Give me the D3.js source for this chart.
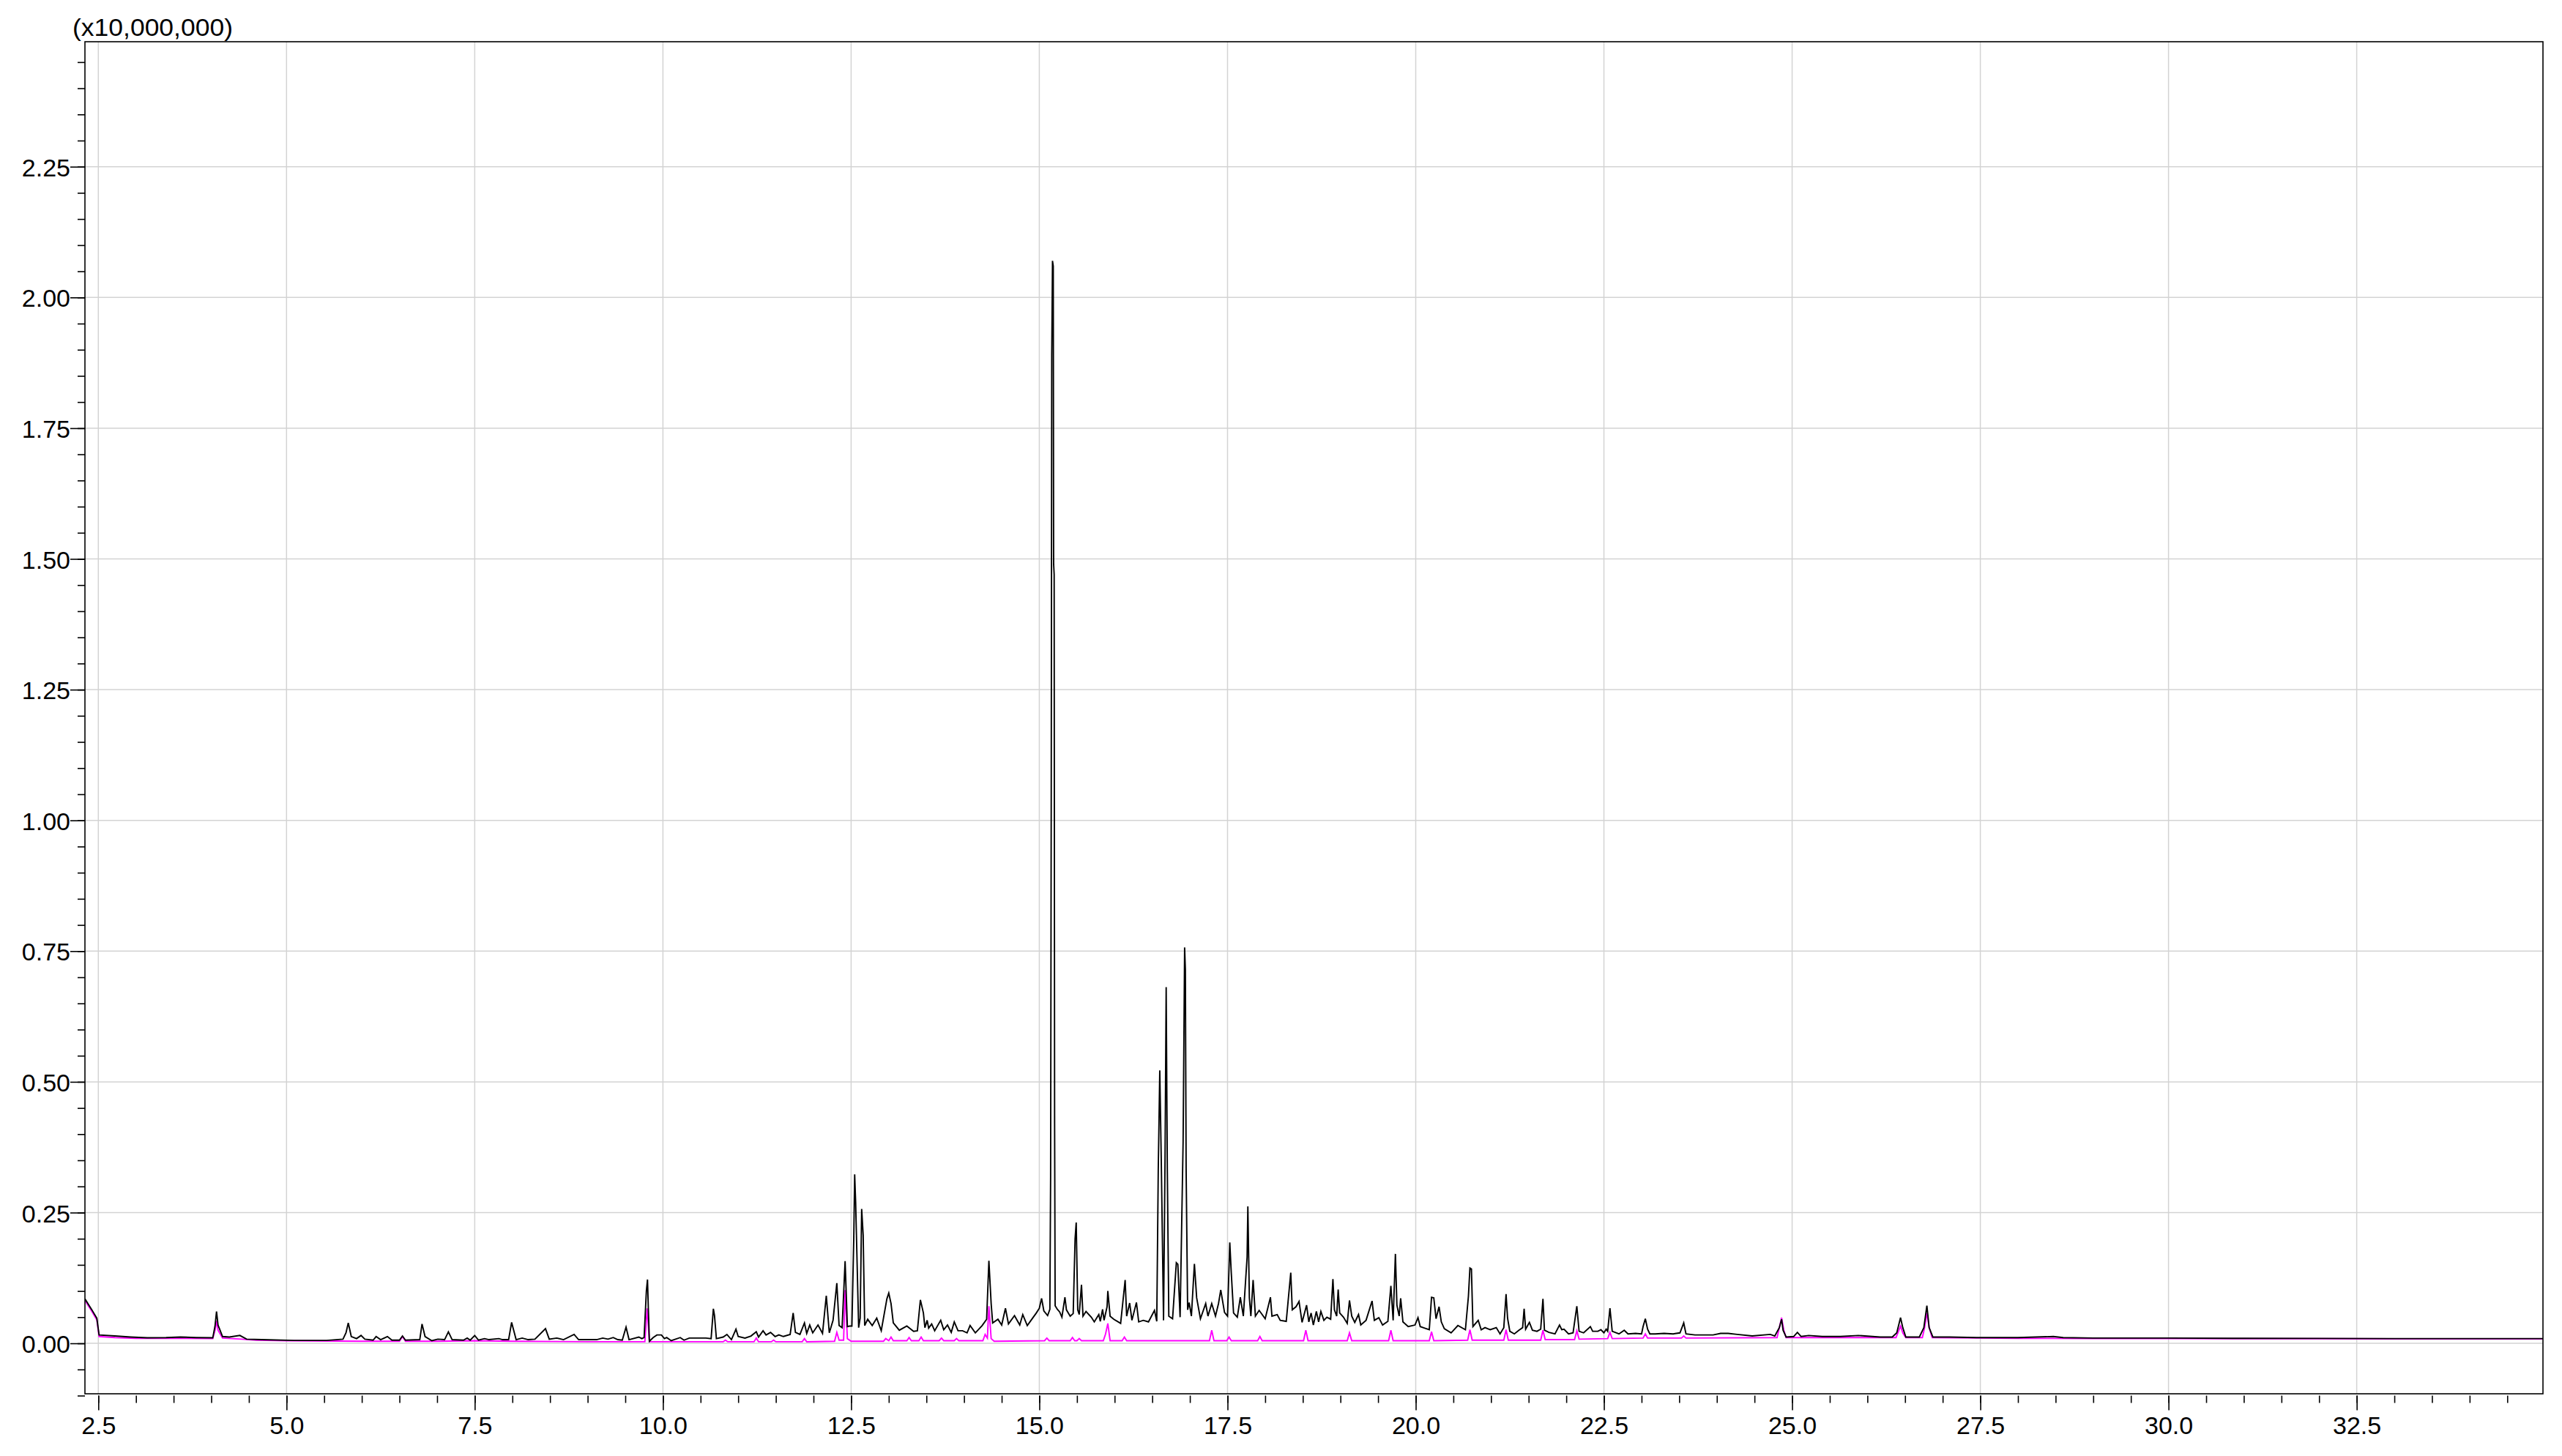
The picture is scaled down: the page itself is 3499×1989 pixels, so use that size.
<!DOCTYPE html>
<html>
<head>
<meta charset="utf-8">
<script src="https://cdn.jsdelivr.net/npm/d3@7"></script>
<style>
  html, body { margin: 0; padding: 0; background: #ffffff; }
  svg { display: block; }
  text { font-family: "Liberation Sans", Arial, sans-serif; fill: #000; }
</style>
</head>
<body>
<svg id="chart" width="3499" height="1989"></svg>
<script>
// ---- Data (retention time in min, intensity in units of 10,000,000) ----
const ticPoints = [
[2.322,0.085],[2.41,0.065],[2.48,0.048],[2.51,0.016],[2.72,0.014],[2.93,0.012],[3.15,0.0105],[3.40,0.011],[3.59,0.012],[3.80,0.011],
[4.02,0.0105],[4.05,0.033],[4.07,0.061],[4.09,0.035],[4.15,0.013],[4.24,0.012],[4.38,0.015],[4.47,0.008],[4.67,0.007],[5.10,0.0055],
[5.53,0.0055],[5.75,0.008],[5.79,0.020],[5.82,0.039],[5.86,0.013],[5.93,0.009],[5.99,0.015],[6.04,0.008],[6.15,0.006],[6.19,0.013],
[6.25,0.007],[6.34,0.013],[6.40,0.006],[6.50,0.006],[6.54,0.014],[6.58,0.006],[6.77,0.007],[6.80,0.037],[6.84,0.013],[6.93,0.005],
[7.01,0.008],[7.10,0.007],[7.15,0.022],[7.20,0.007],[7.35,0.006],[7.40,0.010],[7.44,0.006],[7.50,0.015],[7.55,0.006],[7.63,0.009],
[7.69,0.007],[7.82,0.009],[7.87,0.007],[7.95,0.007],[7.99,0.040],[8.05,0.007],[8.13,0.010],[8.21,0.007],[8.30,0.008],[8.44,0.028],
[8.49,0.008],[8.59,0.010],[8.68,0.007],[8.82,0.017],[8.88,0.007],[9.12,0.007],[9.20,0.010],[9.27,0.008],[9.34,0.011],[9.40,0.007],
[9.46,0.006],[9.51,0.031],[9.55,0.007],[9.68,0.012],[9.72,0.009],[9.75,0.011],[9.78,0.100],[9.795,0.122],[9.806,0.067],[9.82,0.004],
[9.87,0.011],[9.92,0.016],[9.98,0.016],[10.02,0.009],[10.05,0.011],[10.11,0.005],[10.23,0.011],[10.28,0.006],[10.35,0.010],[10.46,0.010],
[10.57,0.010],[10.64,0.009],[10.67,0.066],[10.685,0.053],[10.71,0.009],[10.80,0.012],[10.85,0.017],[10.91,0.007],[10.97,0.027],[11.00,0.013],
[11.09,0.010],[11.17,0.014],[11.24,0.022],[11.27,0.012],[11.33,0.024],[11.37,0.016],[11.43,0.021],[11.49,0.013],[11.54,0.016],[11.60,0.013],
[11.69,0.017],[11.73,0.058],[11.76,0.021],[11.82,0.017],[11.88,0.039],[11.91,0.019],[11.95,0.035],[11.99,0.020],[12.06,0.035],[12.12,0.019],
[12.17,0.091],[12.21,0.020],[12.26,0.044],[12.31,0.115],[12.34,0.034],[12.38,0.030],[12.42,0.157],[12.45,0.032],[12.48,0.033],[12.51,0.033],
[12.535,0.20],[12.547,0.323],[12.56,0.27],[12.60,0.030],[12.62,0.048],[12.64,0.257],[12.66,0.207],[12.68,0.034],[12.72,0.046],[12.78,0.034],
[12.84,0.048],[12.90,0.024],[12.975,0.085],[13.00,0.096],[13.03,0.076],[13.06,0.039],[13.14,0.025],[13.24,0.033],[13.33,0.023],[13.38,0.024],
[13.42,0.083],[13.46,0.058],[13.48,0.030],[13.51,0.044],[13.53,0.029],[13.57,0.037],[13.61,0.024],[13.69,0.044],[13.73,0.026],[13.78,0.035],
[13.83,0.021],[13.87,0.041],[13.92,0.024],[13.98,0.024],[14.04,0.020],[14.08,0.034],[14.15,0.020],[14.24,0.034],[14.30,0.046],[14.33,0.158],
[14.36,0.076],[14.38,0.039],[14.45,0.046],[14.50,0.035],[14.55,0.067],[14.59,0.037],[14.67,0.053],[14.74,0.035],[14.78,0.055],[14.84,0.034],
[14.89,0.044],[14.96,0.058],[15.00,0.067],[15.03,0.086],[15.06,0.062],[15.11,0.053],[15.14,0.065],[15.150,0.32],[15.158,1.02],[15.165,1.89],
[15.175,2.07],[15.185,2.06],[15.19,1.49],[15.197,1.47],[15.203,0.42],[15.21,0.072],[15.24,0.065],[15.27,0.060],[15.30,0.050],[15.34,0.088],
[15.36,0.064],[15.41,0.052],[15.45,0.057],[15.475,0.20],[15.49,0.231],[15.51,0.064],[15.53,0.055],[15.56,0.112],[15.58,0.052],[15.62,0.061],
[15.69,0.050],[15.73,0.041],[15.79,0.055],[15.81,0.042],[15.84,0.065],[15.86,0.044],[15.90,0.070],[15.91,0.100],[15.94,0.052],[15.99,0.046],
[16.08,0.038],[16.14,0.121],[16.16,0.052],[16.20,0.077],[16.23,0.044],[16.29,0.078],[16.32,0.041],[16.38,0.044],[16.45,0.041],[16.53,0.063],
[16.56,0.042],[16.58,0.334],[16.60,0.522],[16.62,0.348],[16.65,0.044],[16.67,0.354],[16.685,0.681],[16.70,0.334],[16.72,0.052],[16.77,0.047],
[16.82,0.154],[16.84,0.151],[16.87,0.050],[16.91,0.386],[16.93,0.757],[16.94,0.714],[16.95,0.334],[16.97,0.064],[16.99,0.078],[17.02,0.052],
[17.06,0.152],[17.09,0.087],[17.14,0.047],[17.21,0.076],[17.24,0.052],[17.29,0.076],[17.34,0.052],[17.38,0.076],[17.41,0.102],[17.46,0.059],
[17.50,0.052],[17.53,0.193],[17.55,0.134],[17.58,0.058],[17.63,0.050],[17.67,0.088],[17.71,0.052],[17.76,0.165],[17.77,0.262],[17.79,0.087],
[17.81,0.052],[17.84,0.121],[17.87,0.052],[17.92,0.063],[17.96,0.055],[18.00,0.047],[18.07,0.088],[18.09,0.052],[18.16,0.055],[18.20,0.044],
[18.28,0.042],[18.34,0.135],[18.36,0.064],[18.41,0.070],[18.45,0.080],[18.49,0.040],[18.55,0.073],[18.58,0.041],[18.61,0.058],[18.64,0.035],
[18.68,0.061],[18.71,0.041],[18.74,0.061],[18.78,0.044],[18.82,0.050],[18.87,0.046],[18.90,0.123],[18.92,0.064],[18.95,0.052],[18.97,0.103],
[18.99,0.058],[19.04,0.050],[19.09,0.038],[19.12,0.082],[19.15,0.052],[19.19,0.040],[19.24,0.055],[19.27,0.035],[19.34,0.044],[19.42,0.081],
[19.45,0.044],[19.51,0.049],[19.56,0.035],[19.63,0.042],[19.67,0.110],[19.70,0.044],[19.73,0.171],[19.75,0.073],[19.78,0.052],[19.80,0.086],
[19.83,0.041],[19.90,0.032],[19.99,0.035],[20.03,0.049],[20.06,0.032],[20.12,0.029],[20.18,0.026],[20.21,0.088],[20.24,0.087],[20.27,0.047],
[20.31,0.070],[20.34,0.041],[20.38,0.028],[20.47,0.020],[20.56,0.034],[20.66,0.026],[20.70,0.090],[20.72,0.144],[20.74,0.142],[20.76,0.032],
[20.83,0.044],[20.87,0.026],[20.92,0.030],[20.99,0.026],[21.07,0.030],[21.12,0.018],[21.17,0.030],[21.20,0.094],[21.22,0.048],[21.25,0.023],
[21.31,0.018],[21.37,0.025],[21.42,0.030],[21.44,0.066],[21.46,0.027],[21.51,0.040],[21.55,0.025],[21.61,0.023],[21.66,0.027],[21.69,0.085],
[21.71,0.025],[21.77,0.021],[21.85,0.018],[21.91,0.035],[21.94,0.026],[21.97,0.027],[22.03,0.018],[22.09,0.020],[22.14,0.071],[22.17,0.023],
[22.23,0.020],[22.32,0.032],[22.35,0.023],[22.42,0.023],[22.46,0.026],[22.50,0.020],[22.53,0.027],[22.55,0.023],[22.58,0.067],[22.61,0.023],
[22.70,0.018],[22.77,0.025],[22.82,0.018],[22.92,0.019],[23.00,0.018],[23.02,0.032],[23.05,0.047],[23.08,0.027],[23.11,0.018],[23.18,0.018],
[23.30,0.019],[23.42,0.018],[23.51,0.020],[23.56,0.039],[23.59,0.018],[23.71,0.016],[23.95,0.016],[24.05,0.019],[24.15,0.019],[24.27,0.017],
[24.47,0.014],[24.71,0.017],[24.77,0.014],[24.83,0.030],[24.86,0.046],[24.88,0.025],[24.92,0.012],[25.02,0.013],[25.07,0.021],[25.12,0.013],
[25.22,0.015],[25.40,0.013],[25.64,0.013],[25.88,0.015],[26.17,0.012],[26.33,0.012],[26.39,0.020],[26.44,0.049],[26.47,0.030],[26.51,0.012],
[26.69,0.012],[26.75,0.030],[26.79,0.072],[26.82,0.030],[26.87,0.012],[27.09,0.012],[27.45,0.011],[28.0,0.011],[28.47,0.013],[28.6,0.011],
[29.0,0.010],[29.5,0.010],[30.0,0.010],[31.0,0.0095],[32.0,0.0093],[33.0,0.009],[34.0,0.009],[34.974,0.009]
];

const eicPoints = [
[2.322,0.082],[2.41,0.062],[2.48,0.045],[2.51,0.013],[2.72,0.011],[3.0,0.0095],[3.5,0.0095],[4.02,0.009],[4.05,0.025],[4.07,0.043],
[4.09,0.025],[4.15,0.010],[4.4,0.008],[4.6,0.006],[5.0,0.005],[6.0,0.004],[6.50,0.004],[6.54,0.013],[6.58,0.004],[7.0,0.004],
[7.5,0.005],[8.0,0.004],[9.0,0.003],[9.76,0.003],[9.79,0.067],[9.82,0.003],[10.80,0.003],[10.83,0.006],[10.86,0.003],[11.21,0.003],
[11.24,0.010],[11.27,0.003],[11.44,0.003],[11.47,0.006],[11.50,0.003],[11.85,0.003],[11.88,0.009],[11.91,0.003],[12.28,0.004],[12.31,0.021],
[12.34,0.006],[12.40,0.006],[12.42,0.102],[12.45,0.009],[12.50,0.004],[12.93,0.004],[12.96,0.009],[13.00,0.005],[13.03,0.012],[13.06,0.005],
[13.24,0.005],[13.27,0.011],[13.30,0.005],[13.40,0.005],[13.43,0.012],[13.46,0.005],[13.67,0.005],[13.70,0.010],[13.73,0.005],[13.87,0.005],
[13.90,0.009],[13.93,0.005],[14.25,0.005],[14.28,0.017],[14.31,0.010],[14.33,0.071],[14.36,0.009],[14.40,0.004],[15.07,0.005],[15.10,0.010],
[15.13,0.005],[15.41,0.005],[15.44,0.011],[15.47,0.005],[15.50,0.005],[15.53,0.009],[15.56,0.005],[15.85,0.005],[15.88,0.018],[15.91,0.038],
[15.94,0.005],[16.10,0.005],[16.13,0.012],[16.16,0.005],[17.26,0.005],[17.29,0.025],[17.32,0.005],[17.49,0.005],[17.52,0.012],[17.55,0.005],
[17.90,0.005],[17.93,0.013],[17.96,0.005],[18.51,0.005],[18.54,0.025],[18.57,0.005],[19.09,0.005],[19.12,0.020],[19.15,0.005],[19.64,0.005],
[19.67,0.025],[19.70,0.005],[20.18,0.005],[20.21,0.022],[20.24,0.005],[20.69,0.006],[20.72,0.026],[20.75,0.006],[21.17,0.006],[21.20,0.026],
[21.23,0.006],[21.66,0.006],[21.69,0.025],[21.72,0.007],[22.11,0.007],[22.14,0.024],[22.17,0.008],[22.55,0.009],[22.58,0.021],[22.61,0.009],
[23.02,0.010],[23.05,0.018],[23.08,0.010],[23.53,0.010],[23.56,0.014],[23.59,0.010],[24.80,0.011],[24.83,0.030],[24.86,0.049],[24.89,0.025],
[24.92,0.011],[26.38,0.011],[26.41,0.022],[26.44,0.033],[26.47,0.020],[26.51,0.011],[26.73,0.011],[26.76,0.030],[26.79,0.058],[26.82,0.030],
[26.86,0.011],[27.5,0.010],[28.0,0.0095],[29.0,0.009],[30.0,0.009],[31.0,0.0088],[32.0,0.0088],[33.0,0.0085],[34.0,0.0085],[34.974,0.0085]
];

const xMajorTicks = [2.5, 5.0, 7.5, 10.0, 12.5, 15.0, 17.5, 20.0, 22.5, 25.0, 27.5, 30.0, 32.5];
const xTickLabels = ["2.5","5.0","7.5","10.0","12.5","15.0","17.5","20.0","22.5","25.0","27.5","30.0","32.5"];
const yMajorTicks = [0, 0.25, 0.5, 0.75, 1.0, 1.25, 1.5, 1.75, 2.0, 2.25];
const yTickLabels = ["0.00","0.25","0.50","0.75","1.00","1.25","1.50","1.75","2.00","2.25"];
const yUnitLabel = "(x10,000,000)";

// ---- Layout ----
const plotLeft = 116, plotRight = 3473, plotTop = 57, plotBottom = 1904;
const axisBaseY = 1906.5;
const fontSize = 34;

const x = d3.scaleLinear().domain([2.322, 34.974]).range([plotLeft, plotRight]);
const y = d3.scaleLinear().domain([-0.1, 2.489]).range([axisBaseY, plotTop]);

const svg = d3.select("#chart");
svg.append("rect").attr("width", 3499).attr("height", 1989).attr("fill", "#ffffff");

// gridlines
const grid = svg.append("g").attr("stroke", "#d3d3d3").attr("stroke-width", 1.5);
grid.selectAll("line.v").data(xMajorTicks).join("line").attr("class", "v")
  .attr("x1", d => x(d)).attr("x2", d => x(d)).attr("y1", plotTop).attr("y2", plotBottom);
grid.selectAll("line.h").data(yMajorTicks).join("line").attr("class", "h")
  .attr("x1", plotLeft).attr("x2", plotRight).attr("y1", d => y(d)).attr("y2", d => y(d));

// clip
svg.append("clipPath").attr("id", "plotClip").append("rect")
  .attr("x", plotLeft).attr("y", plotTop).attr("width", plotRight - plotLeft).attr("height", plotBottom - plotTop);

const line = d3.line().x(d => x(d[0])).y(d => y(d[1]));
const series = svg.append("g").attr("clip-path", "url(#plotClip)");
series.append("path").datum(eicPoints).attr("d", line)
  .attr("fill", "none").attr("stroke", "#ff00ff").attr("stroke-width", 1.9).attr("stroke-linejoin", "miter");
series.append("path").datum(ticPoints).attr("d", line)
  .attr("fill", "none").attr("stroke", "#000000").attr("stroke-width", 1.9).attr("stroke-linejoin", "miter");

// frame
svg.append("rect").attr("x", plotLeft).attr("y", plotTop)
  .attr("width", plotRight - plotLeft).attr("height", plotBottom - plotTop)
  .attr("fill", "none").attr("stroke", "#000").attr("stroke-width", 1.6);

// y axis
const yMinor = d3.range(-0.1, 2.4501, 0.05).map(v => Math.round(v * 100) / 100);
const yMinorAxis = svg.append("g").attr("transform", `translate(${plotLeft},0)`)
  .call(d3.axisLeft(y).tickValues(yMinor).tickSize(10).tickFormat(""));
const yAxis = svg.append("g").attr("transform", `translate(${plotLeft},0)`)
  .call(d3.axisLeft(y).tickValues(yMajorTicks).tickSize(20).tickPadding(0)
    .tickFormat((d, i) => yTickLabels[i]));

// x axis
const xMinor = d3.range(2.5, 34.9, 0.5);
const xMinorAxis = svg.append("g").attr("transform", `translate(0,${axisBaseY})`)
  .call(d3.axisBottom(x).tickValues(xMinor).tickSize(10).tickFormat(""));
const xAxis = svg.append("g").attr("transform", `translate(0,${axisBaseY})`)
  .call(d3.axisBottom(x).tickValues(xMajorTicks).tickSize(20).tickPadding(8)
    .tickFormat((d, i) => xTickLabels[i]));

[yMinorAxis, yAxis, xMinorAxis, xAxis].forEach(g => {
  g.select(".domain").remove();
  g.selectAll(".tick line").attr("stroke", "#000").attr("stroke-width", 1.6);
  g.selectAll(".tick text").attr("font-size", fontSize)
    .attr("font-family", '"Liberation Sans", Arial, sans-serif').attr("fill", "#000");
});
yAxis.selectAll(".tick text").attr("dy", "0.37em");

// unit label
svg.append("text").attr("x", 99).attr("y", 49).attr("font-size", 33)
  .attr("textLength", 219).attr("lengthAdjust", "spacingAndGlyphs")
  .text(yUnitLabel);
</script>
</body>
</html>
